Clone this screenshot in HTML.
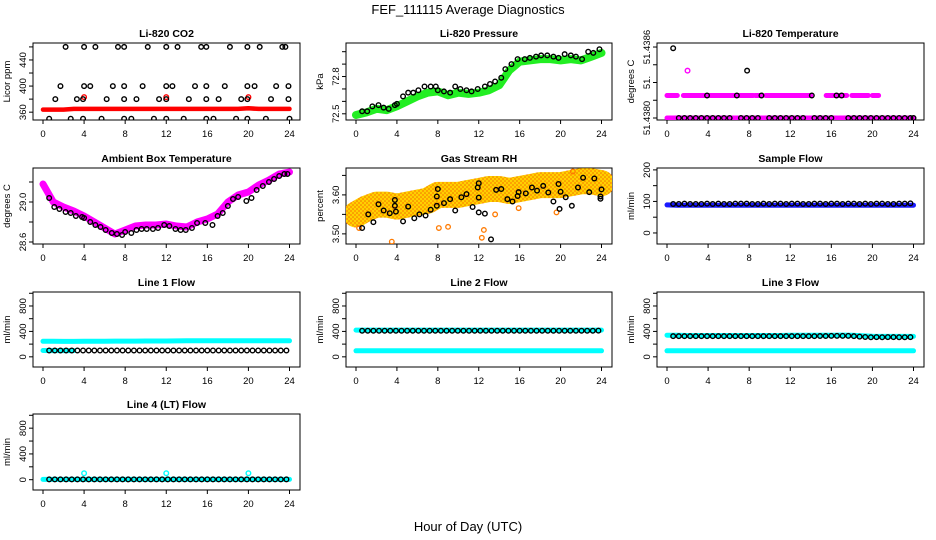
<!DOCTYPE html>
<html><head><meta charset="utf-8"><style>
html,body{margin:0;padding:0;background:#fff;}
svg{display:block;font-family:"Liberation Sans",sans-serif;}
</style></head><body>
<svg id="c" width="936" height="540" viewBox="0 0 936 540">
<defs>
<pattern id="rhp" width="4" height="4" patternUnits="userSpaceOnUse">
<rect width="4" height="4" fill="#ffd000"/><circle cx="1" cy="1" r="0.8" fill="#f07000"/><circle cx="3" cy="3" r="0.6" fill="#ff3000"/>
</pattern>
</defs>
<text x="468" y="14" text-anchor="middle" font-size="13">FEF_111115  Average Diagnostics</text>
<text x="468" y="531" text-anchor="middle" font-size="13">Hour of Day (UTC)</text>
</svg>
<script>
// shared hours
const H = [0.6,1.15,1.7,2.25,2.8,3.35,3.9,4.45,5.0,5.55,6.1,6.65,7.2,7.75,8.3,8.85,9.4,9.95,10.5,11.05,11.6,12.15,12.7,13.25,13.8,14.35,14.9,15.45,16.0,16.55,17.1,17.65,18.2,18.75,19.3,19.85,20.4,20.95,21.5,22.05,22.6,23.15,23.7];
const HB = [0,1,2,3,4,5,6,7,8,9,10,11,12,13,14,15,16,17,18,19,20,21,22,23,24];
const xTicks = [0,4,8,12,16,20,24];

// CO2
const co2Band = [364,364,364,365,365,365,365,365,365,365,365,365,365,365,365,365,365,365,365,365,366,365,365,365,365];
const co2TopH = [2.2,4.0,5.1,7.3,7.9,10.2,12.0,13.1,15.4,15.9,18.2,19.9,21.1,23.3,23.6];
const co2HiH = [1.7,4.0,4.6,6.8,7.9,9.7,12.0,12.6,14.8,15.9,17.7,19.9,20.6,22.7,23.9];
const co2MidH = [1.2,3.3,3.9,6.2,7.9,9.1,11.3,12.0,14.2,15.9,17.1,19.3,19.9,22.2,23.9];
const co2LowH = [0.6,2.7,3.9,5.7,7.9,8.6,10.8,12.0,13.7,15.9,16.6,18.8,19.9,21.7,24.0];
const co2Levels = [460,400,380,350];
const co2RedH = [4,12,20];
const co2RedV = [383,383,383];

// Pressure
const presH = [0.6,1.1,1.6,2.2,2.7,3.2,3.8,4.0,4.6,5.1,5.6,6.1,6.7,7.3,7.8,8.0,8.6,9.2,9.7,10.2,10.8,11.3,11.9,12.6,13.1,13.6,14.2,14.6,15.2,15.8,16.5,17.0,17.6,18.1,18.7,19.3,19.8,20.4,21.0,21.5,22.1,22.7,23.2,23.8];
const presV = [72.52,72.52,72.56,72.57,72.55,72.54,72.57,72.58,72.64,72.67,72.67,72.69,72.72,72.72,72.72,72.69,72.68,72.67,72.72,72.7,72.69,72.68,72.7,72.72,72.74,72.76,72.79,72.86,72.9,72.94,72.94,72.95,72.96,72.97,72.97,72.96,72.95,72.98,72.97,72.96,72.94,73.0,72.99,73.02];
const presBand = [72.49,72.51,72.54,72.53,72.56,72.6,72.64,72.67,72.68,72.65,72.67,72.66,72.67,72.69,72.73,72.85,72.92,72.93,72.94,72.94,72.93,72.94,72.93,72.96,72.99];

// Li-820 temperature
const tLevels = [51.43800,51.43819,51.43840,51.43859];
const tMidSegStart = [0,1.6,8.6,9.6,15.5,18.0,20.0];
const tMidSegEnd = [1.0,8.4,9.2,14.0,17.5,19.6,20.6];
const tBlackMidH = [3.9,6.8,9.2,14.1,16.5,17.0];
const tBlackBotH = [1.15,1.7,2.25,2.8,3.35,3.9,4.45,5.0,5.55,6.1,7.2,7.75,8.3,8.85,9.95,10.5,11.05,11.6,12.15,12.7,13.25,14.35,14.9,15.45,16.0,17.65,18.2,18.75,19.3,19.85,20.4,20.95,21.5,22.05,22.6,23.15,23.7,24.0];
const tBlackHighH = [0.6,7.8];
const tBlackHighV = [51.43859,51.43840];
const tMagHighH = [2.0];
const tMagHighV = [51.43840];

// Ambient box
const ambH = [0.6,1.1,1.6,2.2,2.7,3.2,3.8,4.0,4.6,5.1,5.6,6.1,6.7,7.2,7.7,8.0,8.6,9.1,9.6,10.1,10.7,11.2,11.8,12.3,12.9,13.4,13.9,14.5,15.0,15.8,16.5,17.0,17.5,18.0,18.5,19.0,19.8,20.3,20.8,21.4,22.0,22.5,23.0,23.5,23.8];
const ambV = [29.04,28.95,28.93,28.9,28.89,28.86,28.85,28.84,28.8,28.77,28.75,28.72,28.69,28.68,28.67,28.7,28.69,28.72,28.73,28.73,28.73,28.74,28.77,28.76,28.73,28.72,28.72,28.74,28.79,28.79,28.77,28.86,28.89,28.96,29.03,29.05,29.01,29.04,29.12,29.16,29.2,29.23,29.26,29.28,29.28];
const ambBand = [29.18,29.0,28.95,28.91,28.86,28.8,28.74,28.68,28.72,28.76,28.77,28.77,28.78,28.76,28.75,28.8,28.83,28.88,29.0,29.07,29.1,29.17,29.22,29.28,29.3];

// Gas stream RH
const rhH = [0.6,1.2,1.7,2.2,2.7,3.3,3.8,3.8,3.9,4.6,5.1,5.7,6.2,6.8,7.3,7.9,7.9,8.0,8.6,9.2,9.7,10.3,10.8,11.4,11.9,12.0,12.0,12.0,12.6,13.2,13.7,14.2,14.8,15.3,15.8,15.9,16.6,17.2,17.7,18.3,18.8,19.3,19.8,19.9,20.0,20.5,21.1,21.7,22.2,22.8,23.3,23.9,24.0,23.9];
const rhV = [3.515,3.55,3.53,3.576,3.56,3.553,3.572,3.587,3.557,3.532,3.57,3.54,3.55,3.547,3.562,3.572,3.596,3.615,3.579,3.589,3.56,3.594,3.602,3.569,3.619,3.593,3.63,3.555,3.552,3.486,3.613,3.615,3.589,3.583,3.597,3.607,3.604,3.619,3.611,3.623,3.606,3.583,3.628,3.564,3.608,3.594,3.572,3.619,3.644,3.607,3.642,3.59,3.614,3.596];
const rhBand = [3.55,3.565,3.575,3.575,3.57,3.575,3.58,3.585,3.6,3.6,3.6,3.605,3.61,3.615,3.615,3.61,3.615,3.62,3.625,3.625,3.625,3.63,3.635,3.635,3.63];
const rhOutH = [0.3,3.5,8.1,9.0,12.3,12.5,13.6,15.9,19.6,21.2];
const rhOutV = [3.515,3.48,3.515,3.518,3.49,3.51,3.55,3.566,3.555,3.66];

// Sample flow
const sfV = [92,92,93,92,92,92,93,92,93,92,92,93,93,93,92,92,93,92,93,93,92,93,93,92,92,93,93,92,93,93,92,93,93,92,93,92,93,93,92,92,93,93,94];
const sfBand = [89,88,88,88,88,88,88,88,88,88,88,88,88,88,88,88,88,88,88,88,88,88,88,88,88];

// Line flows
const l1V = [100,100,100,100,100,100,100,100,100,100,100,100,100,100,100,100,100,100,100,100,100,100,100,100,100,100,100,100,100,100,100,100,100,100,100,100,100,100,100,100,100,100,100];
const l1Band = [245,245,243,243,244,245,246,248,248,248,249,249,249,250,252,252,252,253,252,252,252,253,252,252,252];
const l1LowH = [0,1,2,3];
const l1LowV = [100,98,98,98];
const l2V = [410,410,410,410,410,410,410,410,410,410,410,410,410,410,410,410,410,410,410,410,410,410,410,410,410,410,410,410,410,410,410,410,410,410,410,410,410,410,410,410,410,410,412];
const l2Band = [420,420,420,420,420,420,420,420,420,420,420,420,420,420,420,420,420,420,420,420,420,420,420,420,420];
const l2Low = [95,95,95,95,95,95,95,95,95,95,95,95,95,95,95,95,95,95,95,95,95,95,95,95,95];
const l3V = [325,325,325,325,325,325,325,325,325,325,325,325,325,325,325,325,325,325,325,325,325,325,325,325,325,325,327,327,330,330,330,330,325,318,312,308,310,308,310,310,308,308,310];
const l3Band = [340,338,335,335,335,335,335,335,335,335,335,335,338,338,338,338,340,342,338,332,325,322,322,322,322];
const l3Low = [95,95,95,95,95,95,95,95,95,95,95,95,95,95,95,95,95,95,95,95,95,95,95,95,95];
const l4V = [5,5,5,5,5,5,5,5,5,5,5,5,5,5,5,5,5,5,5,5,5,5,5,5,5,5,5,5,5,5,5,5,5,5,5,5,5,5,5,5,5,5,5];
const l4Band = [5,5,5,5,5,5,5,5,5,5,5,5,5,5,5,5,5,5,5,5,5,5,5,5,5];
const l4OutH = [4,12,20];
const l4OutV = [100,100,100];

const NS = 'http://www.w3.org/2000/svg';
const svg = document.getElementById('c');
function mk(tag, attrs, parent){const e=document.createElementNS(NS,tag);for(const k in attrs)e.setAttribute(k,attrs[k]);(parent||svg).appendChild(e);return e;}

const COLS=[[33,300],[346,612],[657,924]];
const ROWS=[[43,120],[168,244],[292,367],[414,490]];

function panel(col,row,title,ylab,dom,ticks,labels,name){
  const [L,R]=COLS[col],[T,B]=ROWS[row];
  const g=mk('g',{});
  
  
  const x=h=>L+10+(R-L-20.5)*h/24;
  const y=v=>B-(v-dom[0])/(dom[1]-dom[0])*(B-T);
  const box=mk('rect',{x:L,y:T,width:R-L,height:B-T,fill:'none',stroke:'#000','stroke-width':1},g);
  
  
  const t=mk('text',{x:(L+R)/2,y:T-6,'text-anchor':'middle','font-size':10.5,'font-weight':'bold'},g);
  t.textContent=title;
  
  
  const yl=mk('text',{transform:`translate(${L-23},${(T+B)/2}) rotate(-90)`,'text-anchor':'middle','font-size':9.5},g);
  yl.textContent=ylab;
  
  
  xTicks.forEach(h=>{
    mk('line',{x1:x(h),x2:x(h),y1:B,y2:B+4,stroke:'#000'},g);
    const tx=mk('text',{x:x(h),y:B+17,'text-anchor':'middle','font-size':9.5},g);
    tx.textContent=h;
    
    
  });
  ticks.forEach((v,i)=>{
    mk('line',{x1:L-4,x2:L,y1:y(v),y2:y(v),stroke:'#000'},g);
    if(labels[i]){
      const ty=mk('text',{transform:`translate(${L-7},${y(v)}) rotate(-90)`,'text-anchor':'middle','font-size':9.5},g);
      ty.textContent=labels[i];
      
      
    }
  });
  const clipId='clip'+col+row;
  const cp=mk('clipPath',{id:clipId},g);mk('rect',{x:L,y:T,width:R-L,height:B-T},cp);
  const d=mk('g',{'clip-path':`url(#${clipId})`},g);
  return {x,y,g:d};
}
function band(p,hs,vs,color,w,name){
  const pts=hs.map((h,i)=>p.x(h).toFixed(1)+','+p.y(vs[i]).toFixed(1)).join(' ');
  const e=mk('polyline',{points:pts,fill:'none',stroke:color,'stroke-width':w,'stroke-linejoin':'round','stroke-linecap':'round'},p.g);
  
  
}
function pts(p,hs,vs,color,name,r,sw){
  hs.forEach((h,i)=>{
    const c=mk('circle',{cx:p.x(h),cy:p.y(vs[i]),r:r||2.3,fill:'none',stroke:color,'stroke-width':sw||1.4},p.g);
    
    
  });
}

// CO2
let p=panel(0,0,'Li-820 CO2','Licor ppm',[348,466],[360,380,400,420,440,460],['360','','400','','440',''],'co2');
band(p,HB,co2Band,'#ff0000',4.5,'co2-band');
pts(p,co2RedH,co2RedV,'#ff0000','co2-red-point');
pts(p,co2TopH,co2TopH.map(()=>co2Levels[0]),'#000','co2-point');
pts(p,co2HiH,co2HiH.map(()=>co2Levels[1]),'#000','co2-point');
pts(p,co2MidH,co2MidH.map(()=>co2Levels[2]),'#000','co2-point');
pts(p,co2LowH,co2LowH.map(()=>co2Levels[3]),'#000','co2-point');

// Pressure
p=panel(1,0,'Li-820 Pressure','kPa',[72.45,73.07],[72.5,72.6,72.7,72.8,72.9,73.0],['72.5','','','72.8','',''],'pressure');
band(p,HB,presBand,'#22ee22',8,'pressure-band');
pts(p,presH,presV,'#000','pressure-point');

// Temperature
p=panel(2,0,'Li-820 Temperature','degrees C',[51.437983,51.438634],[51.4380,51.43815,51.4383,51.43845,51.4386],['51.4380','','51.','','51.4386'],'li820-temp');
band(p,[0,24],[tLevels[0],tLevels[0]],'#ff00ff',5,'li820-temp-band');
tMidSegStart.forEach((s,i)=>band(p,[s,tMidSegEnd[i]],[tLevels[1],tLevels[1]],'#ff00ff',5,'li820-temp-mid-band'));
pts(p,tMagHighH,tMagHighV,'#ff00ff','li820-temp-magenta-point');
pts(p,tBlackBotH,tBlackBotH.map(()=>tLevels[0]),'#000','li820-temp-point');
pts(p,tBlackMidH,tBlackMidH.map(()=>tLevels[1]),'#000','li820-temp-point');
pts(p,tBlackHighH,tBlackHighV,'#000','li820-temp-point');

// Ambient
p=panel(0,1,'Ambient Box Temperature','degrees C',[28.58,29.34],[28.6,28.8,29.0,29.2],['28.6','','29.0',''],'ambient');
band(p,HB,ambBand,'#ff00ff',7,'ambient-band');
pts(p,ambH,ambV,'#000','ambient-point');

// RH
p=panel(1,1,'Gas Stream RH','percent',[3.474,3.669],[3.50,3.55,3.60,3.65],['3.50','','3.60',''],'rh');
band(p,HB,rhBand,'url(#rhp)',26,'rh-band');
pts(p,rhOutH,rhOutV,'#ff7a00','rh-outlier-point',2.3,1.3);
pts(p,rhH,rhV,'#000','rh-point');

// Sample flow
p=panel(2,1,'Sample Flow','ml/min',[-35,206],[0,50,100,150,200],['0','','100','','200'],'sample-flow');
band(p,HB,sfBand,'#1a1aff',5,'sample-flow-band');
pts(p,H,sfV,'#000','sample-flow-point');

const fT=[0,200,400,600,800,1000],fL=['0','','400','','800',''],fD=[-160,1020];
p=panel(0,2,'Line 1 Flow','ml/min',fD,fT,fL,'line1');
band(p,HB,l1Band,'#00ffff',5,'line1-band');
band(p,l1LowH,l1LowV,'#00ffff',5,'line1-low-band');
pts(p,H,l1V,'#000','line1-point');

p=panel(1,2,'Line 2 Flow','ml/min',fD,fT,fL,'line2');
band(p,HB,l2Band,'#00ffff',5,'line2-band');
band(p,HB,l2Low,'#00ffff',5,'line2-low-band');
pts(p,H,l2V,'#000','line2-point');

p=panel(2,2,'Line 3 Flow','ml/min',fD,fT,fL,'line3');
band(p,HB,l3Band,'#00ffff',5,'line3-band');
band(p,HB,l3Low,'#00ffff',5,'line3-low-band');
pts(p,H,l3V,'#000','line3-point');

p=panel(0,3,'Line 4 (LT) Flow','ml/min',fD,fT,fL,'line4');
band(p,HB,l4Band,'#00ffff',5,'line4-band');
pts(p,l4OutH,l4OutV,'#00ffff','line4-outlier-point');
pts(p,H,l4V,'#000','line4-point');
</script>
</body></html>
